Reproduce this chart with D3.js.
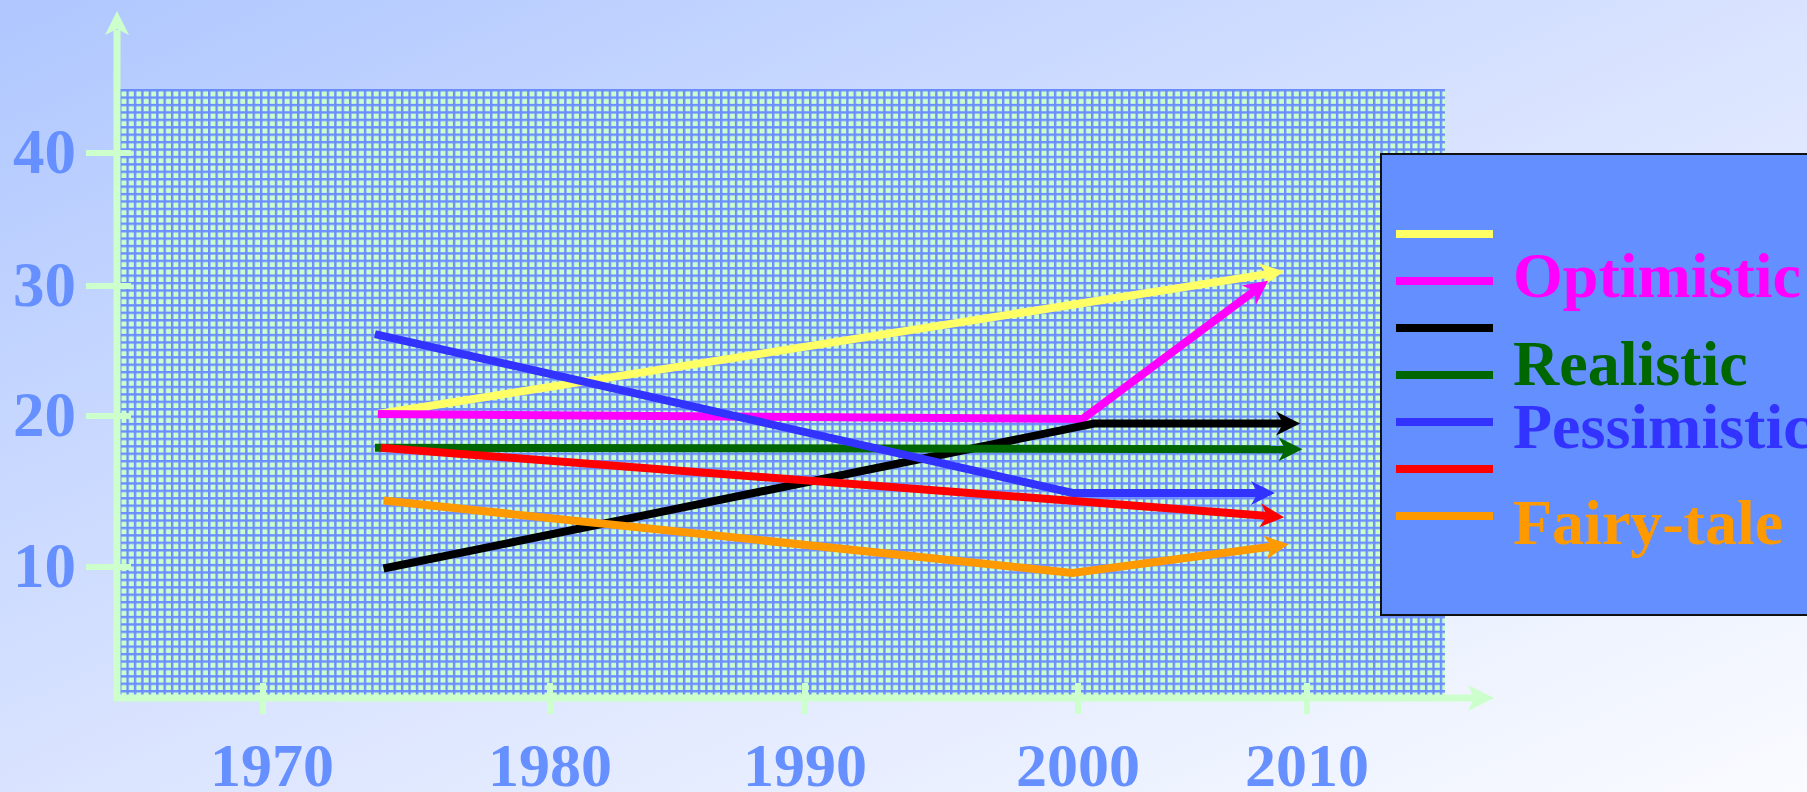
<!DOCTYPE html>
<html><head><meta charset="utf-8">
<script src="https://cdn.jsdelivr.net/npm/d3@7"></script>
<style>html,body{margin:0;padding:0;overflow:hidden;}svg{display:block;}</style>
</head><body>
<svg id="c" width="1807" height="792"></svg>
<script>
// ---- data ----
const xTickYears = [1970, 1980, 1990, 2000, 2010];
const yTickValues = [10, 20, 30, 40];
const seriesNames = ["Yellow", "Optimistic", "Black", "Realistic", "Pessimistic", "Red", "Fairy-tale"];
const legendLabels = ["", "Optimistic", "", "Realistic", "Pessimistic", "", "Fairy-tale"];
const seriesColors = ["#FFFF66", "#FF00FF", "#000000", "#006600", "#3333FF", "#FF0000", "#FF9900"];
const legendTextColors = ["#FFFF66", "#FF00FF", "#000000", "#006600", "#3333FF", "#FF0000", "#FF9900"];
const yellowYears = [1974.0, 2009.0];
const yellowValues = [20.15, 31.1];
const optimisticYears = [1974.0, 2000.2, 2008.3];
const optimisticValues = [20.15, 19.8, 30.4];
const blackYears = [1974.2, 2000.7, 2009.7];
const blackValues = [9.9, 19.5, 19.5];
const realisticYears = [1973.9, 2009.8];
const realisticValues = [17.9, 17.8];
const pessimisticYears = [1973.9, 1999.8, 2008.6];
const pessimisticValues = [26.3, 14.9, 14.9];
const redYears = [1974.1, 2009.0];
const redValues = [17.9, 13.3];
const fairyYears = [1974.2, 1999.8, 2009.2];
const fairyValues = [14.4, 9.6, 11.5];

const seriesYears = [yellowYears, optimisticYears, blackYears, realisticYears, pessimisticYears, redYears, fairyYears];
const seriesValues = [yellowValues, optimisticValues, blackValues, realisticValues, pessimisticValues, redValues, fairyValues];

// ---- layout ----
const svg = d3.select("#c");
const W = 1807, H = 792;
const axisColor = "#CCFFCC";
const labelColor = "#6690FF";

// hand-drawn axes: tick positions are not evenly spaced -> piecewise scales
const x = d3.scaleLinear().domain(xTickYears).range([263, 550, 805, 1078, 1307]);
const y = d3.scaleLinear().domain(yTickValues).range([567, 416, 286, 153]);

const defs = svg.append("defs");
const bg = defs.append("linearGradient").attr("id", "bg")
  .attr("x1", "0%").attr("y1", "0%").attr("x2", "100%").attr("y2", "100%");
bg.append("stop").attr("offset", "0%").attr("stop-color", "#AFC7FF");
bg.append("stop").attr("offset", "55%").attr("stop-color", "#DDE6FF");
bg.append("stop").attr("offset", "100%").attr("stop-color", "#F9FBFF");

const grid = {x0: 119, y0: 89, x1: 1445, y1: 696};
const pitch = 7.42;
const pat = defs.append("pattern").attr("id", "grid").attr("patternUnits", "userSpaceOnUse")
  .attr("x", grid.x0).attr("y", grid.y0).attr("width", pitch).attr("height", pitch);
pat.append("rect").attr("width", pitch).attr("height", pitch).attr("fill", "#6B8EFF");
pat.append("rect").attr("x", 2.4).attr("y", 2.4).attr("width", pitch - 2.4).attr("height", pitch - 2.4).attr("fill", "#CCFFCC");

svg.append("rect").attr("width", W).attr("height", H).attr("fill", "url(#bg)");
svg.append("rect").attr("x", grid.x0).attr("y", grid.y0)
  .attr("width", grid.x1 - grid.x0).attr("height", grid.y1 - grid.y0).attr("fill", "url(#grid)");

// axes
const axisG = svg.append("g");
const yAxisX = 117, xAxisY = 698;
axisG.append("line").attr("x1", yAxisX).attr("x2", yAxisX).attr("y1", xAxisY + 3).attr("y2", 30)
  .attr("stroke", axisColor).attr("stroke-width", 7);
axisG.append("path").attr("d", `M${yAxisX},11 L${yAxisX + 12},35 L${yAxisX},29 L${yAxisX - 12},35 Z`).attr("fill", axisColor);
axisG.append("line").attr("x1", yAxisX - 3).attr("x2", 1475).attr("y1", xAxisY).attr("y2", xAxisY)
  .attr("stroke", axisColor).attr("stroke-width", 7);
axisG.append("path").attr("d", `M1494,${xAxisY} L1468,${xAxisY - 13} L1474,${xAxisY} L1468,${xAxisY + 13} Z`).attr("fill", axisColor);

// y ticks & labels
axisG.selectAll(".yt").data(yTickValues).join("line")
  .attr("x1", 86).attr("x2", 131).attr("y1", d => y(d)).attr("y2", d => y(d))
  .attr("stroke", axisColor).attr("stroke-width", 6);
axisG.selectAll(".yl").data(yTickValues).join("text")
  .attr("x", 76).attr("y", d => y(d) + 20)
  .attr("text-anchor", "end").attr("font-family", "Liberation Serif, serif")
  .attr("font-weight", "bold").attr("font-size", 63).attr("fill", labelColor)
  .text(d => d);

// x ticks & labels
axisG.selectAll(".xt").data(xTickYears).join("line")
  .attr("x1", d => x(d)).attr("x2", d => x(d)).attr("y1", 683).attr("y2", 714)
  .attr("stroke", axisColor).attr("stroke-width", 6);
axisG.selectAll(".xl").data(xTickYears).join("text")
  .attr("x", d => x(d) + (d === 1970 ? 9 : 0)).attr("y", 786)
  .attr("text-anchor", "middle").attr("font-family", "Liberation Serif, serif")
  .attr("font-weight", "bold").attr("font-size", 62).attr("fill", labelColor)
  .text(d => d);

// series lines with arrowheads
const arrowLen = 24, arrowHalf = 12, notch = 7;
const lineGen = d3.line();
const series = seriesNames.map((n, i) => ({
  name: n, color: seriesColors[i],
  pts: seriesYears[i].map((yr, j) => [x(yr), y(seriesValues[i][j])])
}));
const sg = svg.append("g");
series.forEach(s => {
  const pts = s.pts.map(p => p.slice());
  const n = pts.length;
  const tip = pts[n - 1], prev = pts[n - 2];
  const dx = tip[0] - prev[0], dy = tip[1] - prev[1];
  const L = Math.hypot(dx, dy), ux = dx / L, uy = dy / L;
  const px = -uy, py = ux;
  const end = [tip[0] - ux * (arrowLen - notch - 1), tip[1] - uy * (arrowLen - notch - 1)];
  const body = pts.slice(0, n - 1).concat([end]);
  sg.append("path").attr("d", lineGen(body)).attr("fill", "none")
    .attr("stroke", s.color).attr("stroke-width", 8).attr("stroke-linejoin", "miter");
  const bx = tip[0] - ux * arrowLen, by = tip[1] - uy * arrowLen;
  const nx = tip[0] - ux * (arrowLen - notch), ny = tip[1] - uy * (arrowLen - notch);
  sg.append("path")
    .attr("d", `M${tip[0]},${tip[1]} L${bx + px * arrowHalf},${by + py * arrowHalf} L${nx},${ny} L${bx - px * arrowHalf},${by - py * arrowHalf} Z`)
    .attr("fill", s.color);
});

// legend
const lg = svg.append("g");
lg.append("rect").attr("x", 1381).attr("y", 154).attr("width", 600).attr("height", 461)
  .attr("fill", "#648FFF").attr("stroke", "#111").attr("stroke-width", 2);
const legY = d3.scalePoint().domain(seriesNames).range([234, 516]);
lg.selectAll(".ll").data(seriesNames).join("line")
  .attr("x1", 1396).attr("x2", 1493).attr("y1", d => legY(d)).attr("y2", d => legY(d))
  .attr("stroke", (d, i) => seriesColors[i]).attr("stroke-width", 8);
const labelOffsets = [0, 16, 0, 10, 26, 0, 28];
lg.selectAll(".lt").data(seriesNames).join("text")
  .attr("x", 1513).attr("y", (d, i) => legY(d) + labelOffsets[i])
  .attr("font-family", "Liberation Serif, serif").attr("font-weight", "bold")
  .attr("font-size", 64).attr("fill", (d, i) => legendTextColors[i])
  .text((d, i) => legendLabels[i]);
</script>
</body></html>
